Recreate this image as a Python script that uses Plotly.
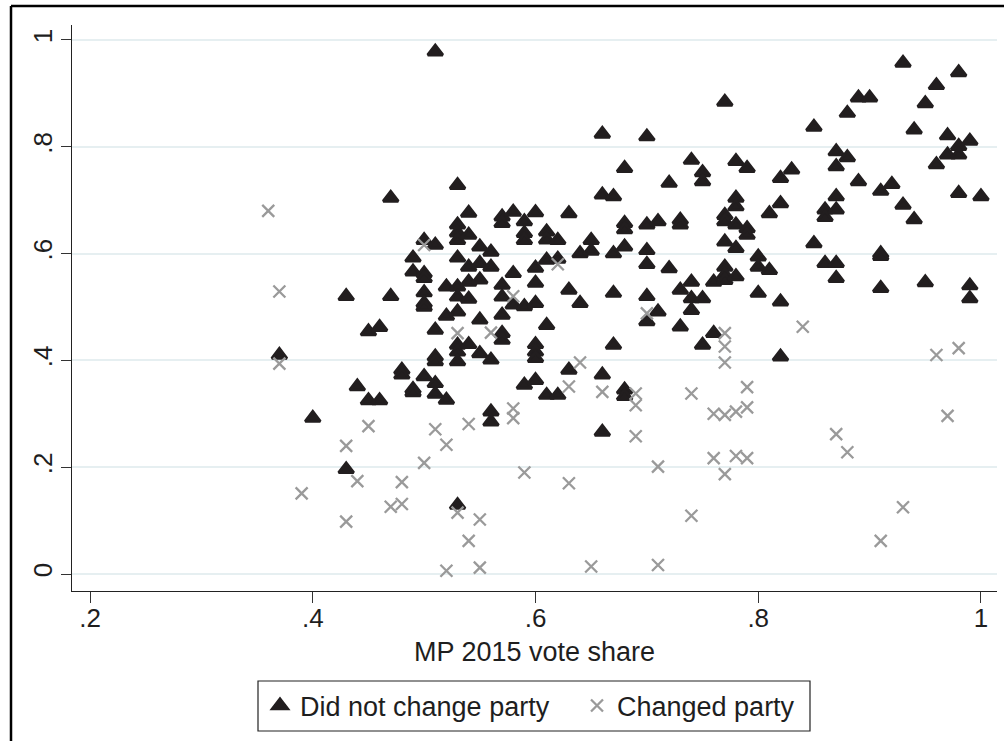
import plotly.graph_objects as go

# MP 2015 vote share (x) vs outcome share (y) for MPs who did not change party
stay_x = [
    0.37, 0.40, 0.43, 0.43, 0.44, 0.45, 0.45, 0.46, 0.46, 0.47, 0.47, 0.48, 0.48,
    0.49, 0.49, 0.49, 0.49,
    0.50, 0.50, 0.50, 0.50, 0.50, 0.50, 0.50,
    0.51, 0.51, 0.51, 0.51, 0.51, 0.51, 0.51,
    0.52, 0.52, 0.52,
    0.53, 0.53, 0.53, 0.53, 0.53, 0.53, 0.53, 0.53, 0.53, 0.53, 0.53, 0.53,
    0.54, 0.54, 0.54, 0.54, 0.54, 0.54,
    0.55, 0.55, 0.55, 0.55, 0.55,
    0.56, 0.56, 0.56, 0.56, 0.56,
    0.57, 0.57, 0.57, 0.57, 0.57, 0.57, 0.57,
    0.58, 0.58, 0.58,
    0.59, 0.59, 0.59, 0.59, 0.59,
    0.60, 0.60, 0.60, 0.60, 0.60, 0.60, 0.60, 0.60,
    0.61, 0.61, 0.61, 0.61, 0.61,
    0.62, 0.62, 0.62,
    0.63, 0.63, 0.63,
    0.64, 0.64,
    0.65, 0.65,
    0.66, 0.66, 0.66, 0.66,
    0.67, 0.67, 0.67, 0.67,
    0.68, 0.68, 0.68, 0.68, 0.68, 0.68,
    0.70, 0.70, 0.70, 0.70, 0.70, 0.70,
    0.71, 0.71,
    0.72, 0.72,
    0.73, 0.73, 0.73, 0.73,
    0.74, 0.74, 0.74, 0.74,
    0.75, 0.75, 0.75, 0.75,
    0.76, 0.76,
    0.77, 0.77, 0.77, 0.77, 0.77, 0.77, 0.77,
    0.78, 0.78, 0.78, 0.78, 0.78, 0.78,
    0.79, 0.79, 0.79,
    0.80, 0.80, 0.80,
    0.81, 0.81,
    0.82, 0.82, 0.82, 0.82,
    0.83,
    0.85, 0.85,
    0.86, 0.86, 0.86,
    0.87, 0.87, 0.87, 0.87, 0.87, 0.87,
    0.88, 0.88,
    0.89, 0.89,
    0.90,
    0.91, 0.91, 0.91, 0.91,
    0.92,
    0.93, 0.93,
    0.94, 0.94,
    0.95, 0.95,
    0.96, 0.96,
    0.97, 0.97,
    0.98, 0.98, 0.98, 0.98,
    0.99, 0.99, 0.99,
    1.00,
]
stay_y = [
    0.410, 0.292, 0.520, 0.196, 0.351, 0.454, 0.325, 0.462, 0.325, 0.704, 0.520, 0.382, 0.373,
    0.592, 0.566, 0.346, 0.340,
    0.625, 0.563, 0.554, 0.527, 0.507, 0.500, 0.370,
    0.978, 0.616, 0.457, 0.407, 0.398, 0.357, 0.337,
    0.538, 0.483, 0.326,
    0.728, 0.654, 0.639, 0.625, 0.592, 0.538, 0.519, 0.491, 0.429, 0.416, 0.398, 0.129,
    0.676, 0.635, 0.575, 0.547, 0.515, 0.430,
    0.613, 0.582, 0.551, 0.476, 0.413,
    0.603, 0.575, 0.401, 0.304, 0.285,
    0.669, 0.657, 0.541, 0.519, 0.485, 0.451, 0.438,
    0.678, 0.563, 0.504,
    0.660, 0.638, 0.625, 0.501, 0.354,
    0.677, 0.573, 0.545, 0.507, 0.430, 0.416, 0.404, 0.363,
    0.641, 0.626, 0.588, 0.466, 0.335,
    0.625, 0.590, 0.335,
    0.675, 0.532, 0.382,
    0.600, 0.507,
    0.625, 0.605,
    0.824, 0.710, 0.373, 0.266,
    0.707, 0.600, 0.526, 0.429,
    0.760, 0.657, 0.645, 0.613, 0.345, 0.333,
    0.819, 0.654, 0.606, 0.580, 0.520, 0.473,
    0.660, 0.491,
    0.732, 0.572,
    0.663, 0.654, 0.532, 0.463,
    0.775, 0.547, 0.516, 0.494,
    0.752, 0.735, 0.516, 0.429,
    0.547, 0.451,
    0.884, 0.672, 0.660, 0.622, 0.575, 0.560, 0.550,
    0.773, 0.704, 0.688, 0.654, 0.610, 0.557,
    0.760, 0.647, 0.635,
    0.594, 0.575, 0.526,
    0.675, 0.569,
    0.741, 0.694, 0.510, 0.407,
    0.757,
    0.837, 0.619,
    0.682, 0.668, 0.582,
    0.791, 0.763, 0.707, 0.682, 0.582, 0.554,
    0.863, 0.780,
    0.892, 0.735,
    0.892,
    0.717, 0.600, 0.595, 0.535,
    0.730,
    0.957, 0.691,
    0.832, 0.664,
    0.881, 0.546,
    0.915, 0.767,
    0.821, 0.785,
    0.939, 0.801, 0.785, 0.713,
    0.811, 0.540, 0.516,
    0.707,
]

# MPs who changed party
changed_x = [
    0.36, 0.37, 0.37, 0.39, 0.43, 0.43, 0.44, 0.45, 0.47, 0.48, 0.48,
    0.50, 0.50, 0.51, 0.52, 0.52, 0.53, 0.53, 0.54, 0.54, 0.55, 0.55,
    0.56, 0.58, 0.58, 0.58, 0.59, 0.62, 0.63, 0.63, 0.64, 0.65, 0.66,
    0.69, 0.69, 0.69, 0.70, 0.71, 0.71, 0.74, 0.74, 0.76, 0.76,
    0.77, 0.77, 0.77, 0.77, 0.77, 0.78, 0.78, 0.79, 0.79, 0.79,
    0.84, 0.87, 0.88, 0.91, 0.93, 0.96, 0.97, 0.98,
]
changed_y = [
    0.680, 0.529, 0.394, 0.151, 0.240, 0.098, 0.174, 0.277, 0.126, 0.131, 0.172,
    0.616, 0.208, 0.271, 0.242, 0.006, 0.451, 0.115, 0.281, 0.062, 0.102, 0.012,
    0.452, 0.520, 0.310, 0.292, 0.190, 0.580, 0.351, 0.170, 0.396, 0.014, 0.341,
    0.338, 0.316, 0.258, 0.488, 0.201, 0.017, 0.338, 0.109, 0.300, 0.217,
    0.451, 0.426, 0.396, 0.298, 0.187, 0.304, 0.221, 0.350, 0.312, 0.217,
    0.463, 0.262, 0.228, 0.062, 0.125, 0.410, 0.296, 0.423,
]

x_ticks = [0.2, 0.4, 0.6, 0.8, 1.0]
x_tick_labels = [".2", ".4", ".6", ".8", "1"]
y_ticks = [0, 0.2, 0.4, 0.6, 0.8, 1.0]
y_tick_labels = ["0", ".2", ".4", ".6", ".8", "1"]

series_names = ["Did not change party", "Changed party"]

FONT = "Liberation Sans, Arial, Helvetica, sans-serif"
TXT = "#1e1e1e"

# plot-area geometry in pixels (figure is 1004 x 741)
L, R, T, B = 72, 7, 25, 150
PW, PH = 1004 - L - R, 741 - T - B


def px_x(p):
    return (p - L) / PW


def px_y(p):
    return (741 - B - p) / PH


fig = go.Figure()
fig.add_trace(go.Scatter(
    x=stay_x, y=stay_y, mode="markers", name=series_names[0],
    marker=dict(symbol="triangle-up", size=13, color="#221e1f",
                line=dict(width=3, color="#221e1f")),
    legendwidth=272,
))
fig.add_trace(go.Scatter(
    x=changed_x, y=changed_y, mode="markers", name=series_names[1],
    marker=dict(symbol="x-thin", size=12, color="#9a9a9a",
                line=dict(width=2.3, color="#9a9a9a")),
    legendwidth=190,
))

fig.update_layout(
    width=1004, height=741,
    margin=dict(l=L, r=R, t=T, b=B, pad=0),
    paper_bgcolor="white", plot_bgcolor="white",
    font=dict(family=FONT, size=27, color=TXT),
    showlegend=True,
    legend=dict(
        orientation="h", x=px_x(260), xanchor="left", y=px_y(706), yanchor="middle",
        borderwidth=0, bgcolor="rgba(0,0,0,0)",
        font=dict(family=FONT, size=27, color=TXT),
        itemwidth=30,
    ),
    xaxis=dict(
        range=[0.1838, 1.0144], tickmode="array", tickvals=x_ticks, ticktext=x_tick_labels,
        ticks="outside", ticklen=11, tickwidth=1.2, tickcolor="#333333",
        showline=True, linecolor="#222222", linewidth=1.2,
        showgrid=False, zeroline=False,
        tickfont=dict(family=FONT, size=26, color=TXT),
        ticklabelstandoff=-7,
        title=dict(text="MP 2015 vote share", font=dict(family=FONT, size=27, color=TXT), standoff=9),
    ),
    yaxis=dict(
        range=[-0.0318, 1.028], tickmode="array", tickvals=y_ticks, ticktext=y_tick_labels,
        tickangle=-90,
        ticks="outside", ticklen=10, tickwidth=1.2, tickcolor="#333333",
        showline=True, linecolor="#222222", linewidth=1.2,
        showgrid=True, gridcolor="#e6eff1", gridwidth=1.5, zeroline=False,
        tickfont=dict(family=FONT, size=26, color=TXT),
        ticklabelstandoff=-1,
    ),
    shapes=[
        # outer graph-region frame (left and top edges visible)
        dict(type="line", xref="paper", yref="paper", x0=px_x(11), x1=px_x(11), y0=px_y(6), y1=px_y(760),
             line=dict(color="black", width=2.5)),
        dict(type="line", xref="paper", yref="paper", x0=px_x(11), x1=px_x(1020), y0=px_y(6), y1=px_y(6),
             line=dict(color="black", width=2.5)),
        # legend box
        dict(type="rect", xref="paper", yref="paper", x0=px_x(258), x1=px_x(810), y0=px_y(731), y1=px_y(681),
             line=dict(color="#222222", width=1.2), fillcolor="rgba(0,0,0,0)"),
    ],
)

fig.write_html("out.html", config={"displayModeBar": False},
               post_script="document.body.style.margin='0';")
